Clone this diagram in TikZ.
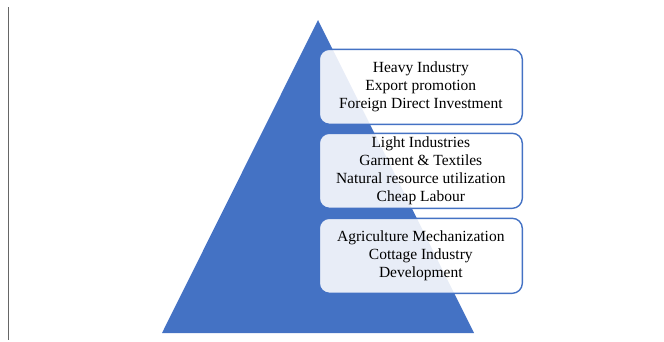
\documentclass[tikz,border=0pt]{standalone}
\usepackage{fontspec}
\setmainfont{Liberation Serif}
\definecolor{pyblue}{HTML}{4472C4}
\begin{document}
\begin{tikzpicture}[x=1pt,y=-1pt,
  tier/.style={draw=pyblue, line width=1.4pt, fill=white, fill opacity=0.88, text opacity=1,
    rounded corners=10pt, minimum width=203pt, minimum height=75pt, align=center,
    inner sep=0pt, font=\fontsize{15.5}{18.3}\selectfont}]
\useasboundingbox (0,0) rectangle (664,341);
\draw[gray!80!black, line width=1.3pt] (8.5,7) coordinate (ltop) -- (8.5,340) coordinate (lbot);
\fill[pyblue] (318,20) coordinate (apex) -- (474,333) coordinate (br) -- (162,333) coordinate (bl) -- cycle;
\node[tier] (t1) at (420.8,86.8) {Heavy Industry\\Export promotion\\Foreign Direct Investment};
\node[tier] (t2) at (420.8,170.8) {Light Industries\\Garment \& Textiles\\Natural resource utilization\\Cheap Labour};
\node[tier] (t3) at (420.8,255.8) {Agriculture Mechanization\\Cottage Industry\\Development};
\end{tikzpicture}
\end{document}
